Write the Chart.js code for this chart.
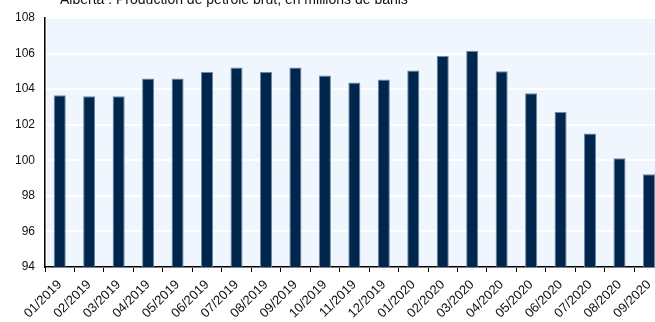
<!DOCTYPE html>
<html>
<head>
<meta charset="utf-8">
<script src="https://cdn.jsdelivr.net/npm/chart.js@4"></script>
<style>
    html, body { margin: 0; padding: 0; background: #fff; overflow: hidden; }
    #wrap { position: absolute; left: 0; top: -10px; width: 665px; height: 332px; }
</style>
</head>
<body>
<div id="wrap"><canvas id="oilChart"></canvas></div>
<script>
const chartTitle = 'Alberta : Production de pétrole brut, en millions de barils';

const months = [
    '01/2019', '02/2019', '03/2019', '04/2019', '05/2019', '06/2019',
    '07/2019', '08/2019', '09/2019', '10/2019', '11/2019', '12/2019',
    '01/2020', '02/2020', '03/2020', '04/2020', '05/2020', '06/2020',
    '07/2020', '08/2020', '09/2020'
];

const production = [
    103.65, 103.6, 103.6, 104.6, 104.6, 104.97,
    105.22, 104.97, 105.22, 104.77, 104.37, 104.54,
    105.05, 105.86, 106.16, 105.0, 103.77, 102.71,
    101.51, 100.12, 99.21
];

const yMin = 94;
const yMax = 108;
const yStep = 2;

const FONT = 'Liberation Sans';

// Light blue plot background + title text
const plotBackground = {
    id: 'plotBackground',
    beforeDraw(chart) {
        const { ctx, chartArea } = chart;
        ctx.save();
        ctx.fillStyle = '#eff6fd';
        ctx.fillRect(chartArea.left, chartArea.top, chartArea.right - chartArea.left, chartArea.bottom - chartArea.top);
        ctx.restore();
    },
    afterDraw(chart) {
        const { ctx, chartArea } = chart;
        ctx.save();
        ctx.fillStyle = '#111';
        ctx.font = '14px "' + FONT + '"';
        ctx.textBaseline = 'alphabetic';
        ctx.fillText(chartTitle, chartArea.left + 15, 14);
        ctx.restore();
    }
};

const ctx = document.getElementById('oilChart').getContext('2d');

new Chart(ctx, {
    type: 'bar',
    data: {
        labels: months,
        datasets: [{
            data: production,
            backgroundColor: '#00264d',
            borderColor: '#6f8aa6',
            borderWidth: 1,
            categoryPercentage: 1,
            barPercentage: 0.41
        }]
    },
    options: {
        responsive: true,
        maintainAspectRatio: false,
        animation: false,
        layout: { padding: { top: 28, right: 0, left: 0, bottom: 0 } },
        plugins: {
            legend: { display: false },
            title: { display: false },
            tooltip: { enabled: false }
        },
        scales: {
            x: {
                offset: true,
                grid: {
                    offset: true,
                    drawOnChartArea: false,
                    color: '#000',
                    tickLength: 5
                },
                border: { color: '#000', width: 1.5 },
                ticks: {
                    maxRotation: 45,
                    minRotation: 45,
                    autoSkip: false,
                    color: '#111',
                    padding: 5,
                    font: { family: FONT, size: 13 }
                },
                afterFit(scale) { scale.height = 55; }
            },
            y: {
                min: yMin,
                max: yMax,
                ticks: {
                    stepSize: yStep,
                    color: '#111',
                    padding: 10,
                    font: { family: FONT, size: 12 }
                },
                grid: {
                    color: '#ffffff',
                    lineWidth: 2,
                    drawTicks: false
                },
                border: { color: '#000', width: 1.5 },
                afterFit(scale) { scale.width = 45; }
            }
        }
    },
    plugins: [plotBackground]
});
</script>
</body>
</html>
